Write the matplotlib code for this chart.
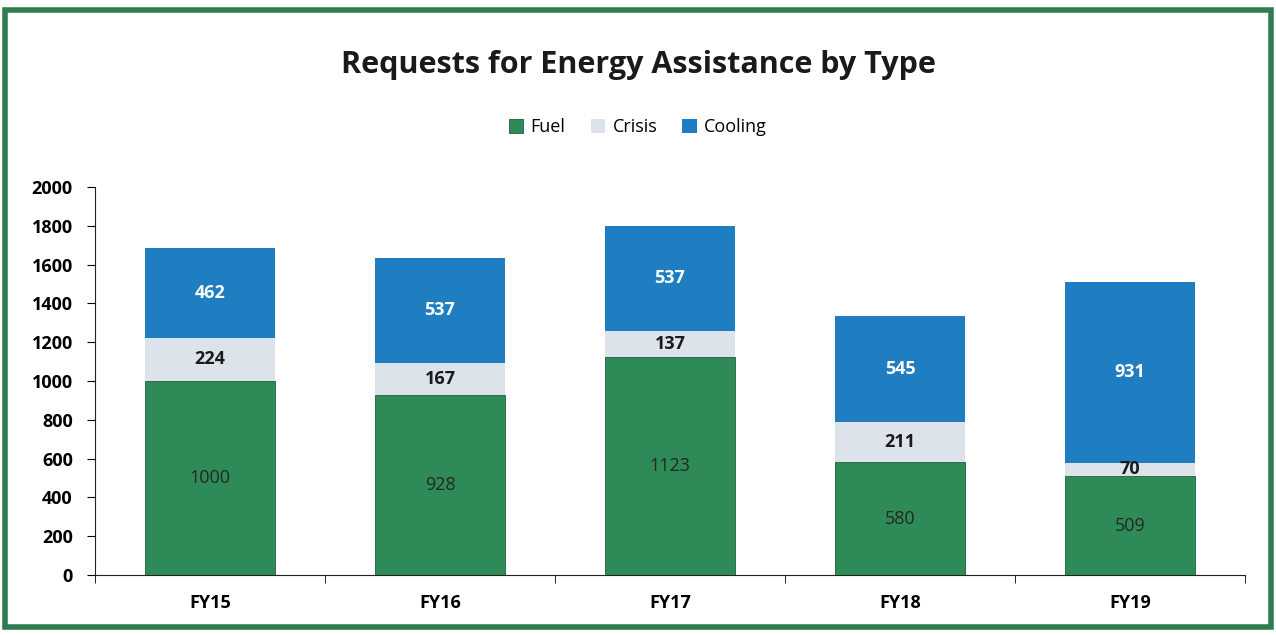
import matplotlib
matplotlib.use("Agg")
import matplotlib.pyplot as plt
from matplotlib.patches import Rectangle
import numpy as np

categories = ["FY15", "FY16", "FY17", "FY18", "FY19"]
fuel = [1000, 928, 1123, 580, 509]
crisis = [224, 167, 137, 211, 70]
cooling = [462, 537, 537, 545, 931]

c_fuel = "#2E8B57"
c_crisis = "#DDE3EA"
c_cool = "#1F7EC1"
c_border = "#2E7D4F"

plt.rcParams['font.family'] = ['Open Sans', 'DejaVu Sans']

fig = plt.figure(figsize=(12.76, 6.35), dpi=100)
fig.patches.append(Rectangle((0.004, 0.012), 0.992, 0.972, transform=fig.transFigure,
                             fill=False, edgecolor=c_border, linewidth=4))

ax = fig.add_axes([95/1276, 1 - 575/635, 1150/1276, 388/635])
x = np.arange(len(categories))
w = 0.565
b1 = ax.bar(x, fuel, w, color=c_fuel, edgecolor="#1e5e3a", linewidth=0.6, label="Fuel")
b2 = ax.bar(x, crisis, w, bottom=fuel, color=c_crisis, label="Crisis")
bot3 = [f + c for f, c in zip(fuel, crisis)]
b3 = ax.bar(x, cooling, w, bottom=bot3, color=c_cool, label="Cooling")

ax.bar_label(b1, labels=[str(v) for v in fuel], label_type="center", fontsize=13, color="#262626")
ax.bar_label(b2, labels=[str(v) for v in crisis], label_type="center", fontsize=13,
             color="#1a1a1a", fontweight="bold")
ax.bar_label(b3, labels=[str(v) for v in cooling], label_type="center", fontsize=13,
             color="white", fontweight="bold")

ax.set_xlim(-0.5, len(categories) - 0.5)
ax.set_ylim(0, 2000)
ax.set_yticks(range(0, 2001, 200))
ax.set_xticks(x)
ax.set_xticklabels(categories, fontsize=13, fontweight="bold")
ax.tick_params(axis="x", length=0, pad=14)
ax.set_xticks(np.arange(-0.5, len(categories), 1), minor=True)
ax.tick_params(axis="x", which="minor", length=6, direction="out")
ax.tick_params(axis="y", labelsize=13, length=6, direction="out", pad=10)
for lab in ax.get_yticklabels():
    lab.set_fontweight("bold")
for s in ["top", "right"]:
    ax.spines[s].set_visible(False)
ax.spines["left"].set_color("#222222")
ax.spines["bottom"].set_color("#222222")

fig.text(0.5, 1 - 65/635, "Requests for Energy Assistance by Type", ha="center", va="center",
         fontsize=22, fontweight="bold", color="#1a1a1a")
fig.legend(handles=[b1, b2, b3], labels=["Fuel", "Crisis", "Cooling"], loc="center",
           bbox_to_anchor=(0.5, 1 - 127/635), ncol=3, frameon=False, fontsize=13,
           handlelength=0.8, handleheight=0.8, handletextpad=0.4, columnspacing=1.4)

fig.savefig("out.png", dpi=100, facecolor="white")
